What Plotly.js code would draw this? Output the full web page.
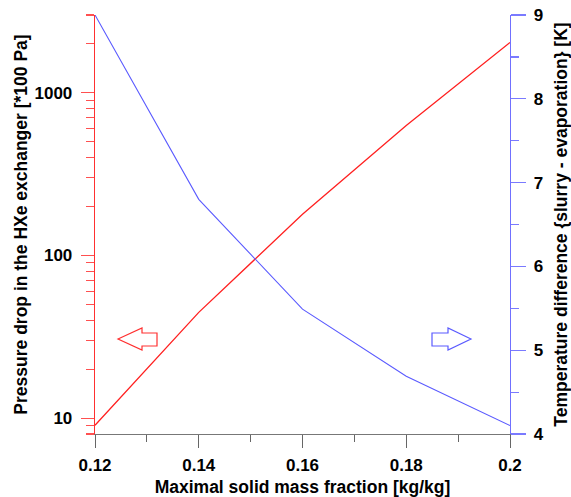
<!DOCTYPE html>
<html>
<head>
<meta charset="utf-8">
<script src="https://cdn.plot.ly/plotly-3.0.1.min.js"></script>
<style>html,body{margin:0;padding:0;background:#fff;}#chart{width:571px;height:497px;}</style>
</head>
<body>
<div id="chart"></div>
<script>
// Data
const massFraction = [0.12, 0.14, 0.16, 0.18, 0.2];
const pressureDrop = [9.06, 44.7, 179, 628, 2036];       // [*100 Pa], left log axis
const tempDifference = [9.0, 6.80, 5.49, 4.69, 4.10];   // [K], right axis
const xTickVals = [0.12, 0.14, 0.16, 0.18, 0.2];
const xTickText = ['0.12', '0.14', '0.16', '0.18', '0.2'];
const yTickVals = [10, 100, 1000];
const yTickText = ['10', '100', '1000'];
const yMinorVals = [8, 9, 20, 30, 40, 50, 60, 70, 80, 90, 200, 300, 400, 500, 600, 700, 800, 900, 2000, 3000];
const y2TickVals = [4, 5, 6, 7, 8, 9];

const W = 571, H = 497;
const L = 95, R = 510, T = 15, B = 434;
const px = x => (x - L) / (R - L);
const py = y => (B - y) / (B - T);

function arrowPath(pts) {
  return 'M ' + pts.map(p => px(p[0]) + ',' + py(p[1])).join(' L ') + ' Z';
}
const leftArrow = arrowPath([[118,339],[142,328],[142,333],[157,333],[157,346],[142,346],[142,350]]);
const rightArrow = arrowPath([[471,339],[448,328],[448,333],[432,333],[432,346],[448,346],[448,350]]);

const fam = 'Liberation Sans, Arial, sans-serif';
const tickFont = {family: fam, size: 17, color: '#000', weight: 'bold'};
const titleFont = {family: fam, size: 17.5, color: '#000'};

const traces = [
  {x: massFraction, y: pressureDrop, type: 'scatter', mode: 'lines',
   line: {color: '#ff2020', width: 1.3}, yaxis: 'y', hoverinfo: 'skip'},
  {x: massFraction, y: tempDifference, type: 'scatter', mode: 'lines',
   line: {color: '#5a5aff', width: 1.1}, yaxis: 'y2', hoverinfo: 'skip'}
];

const layout = {
  width: W, height: H,
  margin: {l: L, r: W - R, t: T, b: H - B},
  paper_bgcolor: '#fff', plot_bgcolor: '#fff',
  showlegend: false,
  font: {family: fam, size: 16, color: '#000'},
  xaxis: {
    range: [0.12, 0.2], tickmode: 'array', tickvals: xTickVals, ticktext: xTickText,
    ticks: 'outside', ticklen: 13, tickwidth: 1, tickcolor: '#666',
    showline: true, linecolor: '#777', linewidth: 1.3, showgrid: false, zeroline: false,
    tickfont: tickFont, ticklabelstandoff: 2,
    minor: {tickmode: 'array', tickvals: [0.13, 0.15, 0.17, 0.19], ticks: 'outside', ticklen: 7, tickcolor: '#666', showgrid: false},
    title: {text: '<b>Maximal solid mass fraction [kg/kg]</b>', font: titleFont, standoff: 7}
  },
  yaxis: {
    type: 'log', range: [Math.log10(8), Math.log10(3000)],
    tickmode: 'array', tickvals: yTickVals, ticktext: yTickText,
    ticks: 'outside', ticklen: 13, tickwidth: 1.2, tickcolor: '#ff5050',
    showline: true, linecolor: '#ff3030', linewidth: 1.3, showgrid: false, zeroline: false,
    tickfont: tickFont, ticklabelstandoff: 5,
    minor: {tickmode: 'array', tickvals: yMinorVals, ticks: 'outside', ticklen: 8, tickcolor: '#ff5050', showgrid: false},
    title: {text: '<b>Pressure drop in the HXe exchanger [*100 Pa]</b>', font: titleFont, standoff: 2}
  },
  yaxis2: {
    overlaying: 'y', side: 'right', range: [4, 9],
    tickmode: 'array', tickvals: y2TickVals,
    ticks: 'outside', ticklen: 15, tickwidth: 1.2, tickcolor: '#7a7aff',
    showline: true, linecolor: '#7070ff', linewidth: 1.3, showgrid: false, zeroline: false,
    tickfont: tickFont, ticklabelstandoff: 4,
    minor: {tickmode: 'array', tickvals: [4.5, 5.5, 6.5, 7.5, 8.5], ticks: 'outside', ticklen: 8, tickcolor: '#7a7aff', showgrid: false},
    title: {text: '<b>Temperature difference {slurry - evaporation} [K]</b>', font: titleFont, standoff: 12}
  },
  shapes: [
    {type: 'path', xref: 'paper', yref: 'paper', path: leftArrow, line: {color: '#ff3030', width: 1.2}, fillcolor: 'rgba(0,0,0,0)'},
    {type: 'path', xref: 'paper', yref: 'paper', path: rightArrow, line: {color: '#5a5aff', width: 1.2}, fillcolor: 'rgba(0,0,0,0)'}
  ]
};

Plotly.newPlot('chart', traces, layout, {staticPlot: true, displayModeBar: false});
</script>
</body>
</html>
